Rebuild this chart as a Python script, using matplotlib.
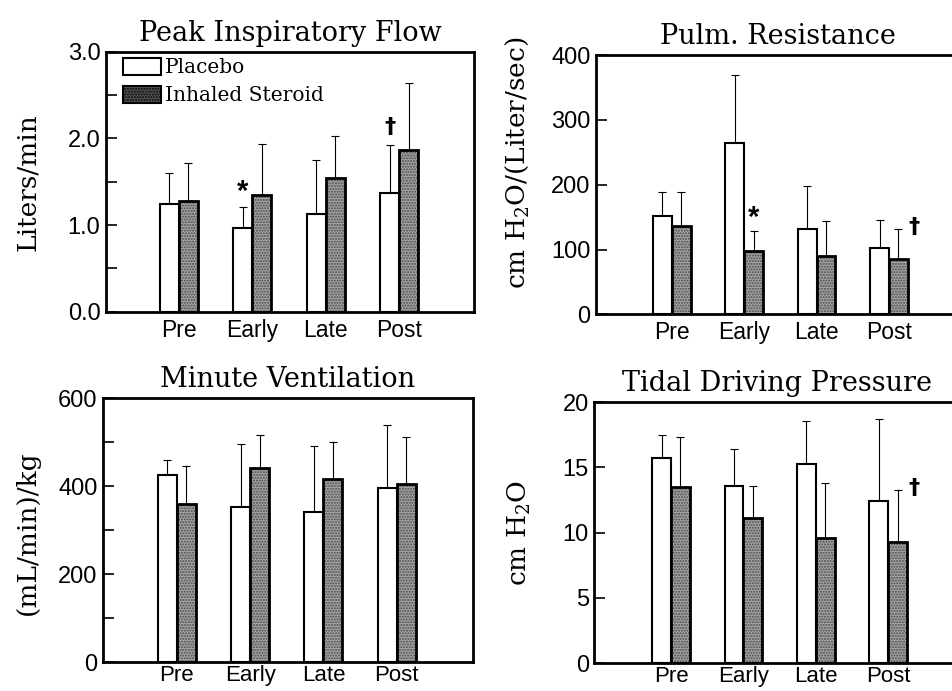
import matplotlib
matplotlib.use("Agg")
import matplotlib.pyplot as plt
from matplotlib.patches import Patch
from matplotlib.ticker import MultipleLocator, FormatStrFormatter
import numpy as np

# ======================
# DATA
# ======================
categories = ["Pre", "Early", "Late", "Post"]

# Peak Inspiratory Flow (Liters/min)
pif_placebo = [1.24, 0.97, 1.13, 1.37]
pif_placebo_sd = [0.36, 0.24, 0.62, 0.55]
pif_steroid = [1.28, 1.35, 1.54, 1.86]
pif_steroid_sd = [0.43, 0.59, 0.49, 0.78]

# Pulm. Resistance (cm H2O/(Liter/sec))
res_placebo = [151, 265, 132, 102]
res_placebo_sd = [37, 104, 66, 43]
res_steroid = [136, 98, 90, 85]
res_steroid_sd = [53, 30, 54, 46]

# Minute Ventilation ((mL/min)/kg)
mv_placebo = [425, 353, 342, 397]
mv_placebo_sd = [36, 143, 149, 143]
mv_steroid = [361, 441, 417, 406]
mv_steroid_sd = [86, 76, 84, 106]

# Tidal Driving Pressure (cm H2O)
tdp_placebo = [15.7, 13.6, 15.3, 12.4]
tdp_placebo_sd = [1.8, 2.8, 3.3, 6.3]
tdp_steroid = [13.5, 11.1, 9.6, 9.3]
tdp_steroid_sd = [3.8, 2.5, 4.2, 4.0]

# ======================
# STYLE
# ======================
plt.rcParams["mathtext.fontset"] = "dejavuserif"
SERIF = "DejaVu Serif"
SANS = "Liberation Sans"
STEROID_FACE = "#a4a4a4"
STEROID_DOTS = "#4a4a4a"
BAR_W = 0.26

fig = plt.figure(figsize=(9.52, 6.91), dpi=100)


def draw_panel(rect, title, ylabel, placebo, placebo_sd, steroid, steroid_sd,
               ymax, major, minor, xlim, label_xy, fmt=None, xpad=5, xsize=16.5):
    ax = fig.add_axes(rect)
    x = np.arange(len(categories))
    xp = x - BAR_W / 2
    xs = x + BAR_W / 2

    # error bars (upper only)
    ax.errorbar(xp, placebo, yerr=[np.zeros(len(x)), placebo_sd], fmt="none",
                ecolor="black", elinewidth=0.8, capsize=3, capthick=0.8, zorder=1)
    ax.errorbar(xs, steroid, yerr=[np.zeros(len(x)), steroid_sd], fmt="none",
                ecolor="black", elinewidth=0.8, capsize=3, capthick=0.8, zorder=1)

    ax.bar(xp, placebo, BAR_W, facecolor="white", edgecolor="black", linewidth=1.5, zorder=2)
    # stippled grey fill, then a heavy outline on top
    ax.bar(xs, steroid, BAR_W, facecolor=STEROID_FACE, edgecolor=STEROID_DOTS,
           hatch="......", linewidth=0, zorder=2)
    ax.bar(xs, steroid, BAR_W, facecolor="none", edgecolor="black", linewidth=2.0, zorder=3)

    ax.set_xlim(*xlim)
    ax.set_ylim(0, ymax)
    ax.set_xticks(x)
    ax.set_xticklabels(categories, fontfamily=SANS, fontsize=xsize)
    ax.tick_params(axis="x", length=0, pad=xpad)
    ax.yaxis.set_major_locator(MultipleLocator(major))
    if minor:
        ax.yaxis.set_minor_locator(MultipleLocator(minor))
    if fmt:
        ax.yaxis.set_major_formatter(FormatStrFormatter(fmt))
    ax.tick_params(axis="y", which="both", direction="in", length=8, width=1.2,
                   labelsize=17, pad=4)
    for lbl in ax.get_yticklabels():
        lbl.set_fontfamily(SANS)
    for sp in ax.spines.values():
        sp.set_linewidth(2.0)

    ax.set_title(title, fontfamily=SERIF, fontsize=19.5, pad=8)
    ax.set_ylabel(ylabel, fontfamily=SERIF, fontsize=19)
    ax.yaxis.set_label_coords(*label_xy)
    return ax


# ======================
# PANELS
# ======================
ax1 = draw_panel([0.1113, 0.5489, 0.3866, 0.3763], "Peak Inspiratory Flow", "Liters/min",
                 pif_placebo, pif_placebo_sd, pif_steroid, pif_steroid_sd,
                 3.0, 1.0, 0.5, (-0.99, 4.02), (-0.18, 0.5), fmt="%.1f")
ax1.text(1 - BAR_W / 2, 1.38, "*", ha="center", va="center", fontsize=21,
         fontweight="bold", fontfamily=SANS)
ax1.text(3 - BAR_W / 2, 2.13, "\u2020", ha="center", va="center", fontsize=16,
         fontweight="bold", fontfamily="DejaVu Sans")
handles = [Patch(facecolor="white", edgecolor="black", linewidth=1.5, label="Placebo"),
           Patch(facecolor="#555555", edgecolor="black", hatch="......", linewidth=1.5,
                 label="Inhaled Steroid")]
ax1.legend(handles=handles, loc="upper left", bbox_to_anchor=(0.045, 0.975),
           frameon=False, prop={"family": SERIF, "size": 14.5}, handlelength=1.9,
           handleheight=0.9, handletextpad=0.2, labelspacing=0.42,
           borderpad=0, borderaxespad=0)

ax2 = draw_panel([0.626, 0.5451, 0.3824, 0.3753], "Pulm. Resistance",
                 "cm H$_2$O/(Liter/sec)",
                 res_placebo, res_placebo_sd, res_steroid, res_steroid_sd,
                 400, 100, None, (-1.046, 3.98), (-0.179, 0.585))
ax2.text(1 + BAR_W / 2, 148, "*", ha="center", va="center", fontsize=21,
         fontweight="bold", fontfamily=SANS)
ax2.text(3.35, 135, "\u2020", ha="center", va="center", fontsize=16,
         fontweight="bold", fontfamily="DejaVu Sans")

ax3 = draw_panel([0.1082, 0.0415, 0.3887, 0.382], "Minute Ventilation", "(mL/min)/kg",
                 mv_placebo, mv_placebo_sd, mv_steroid, mv_steroid_sd,
                 600, 200, 100, (-1.005, 4.04), (-0.17, 0.49), xpad=2, xsize=16)

ax4 = draw_panel([0.6243, 0.0405, 0.3841, 0.3773], "Tidal Driving Pressure", "cm H$_2$O",
                 tdp_placebo, tdp_placebo_sd, tdp_steroid, tdp_steroid_sd,
                 20, 5, None, (-1.06, 3.99), (-0.168, 0.5), xpad=2, xsize=16)
ax4.text(3.36, 13.45, "\u2020", ha="center", va="center", fontsize=16,
         fontweight="bold", fontfamily="DejaVu Sans")

fig.savefig("out.png", dpi=100)
print("Saved out.png")
